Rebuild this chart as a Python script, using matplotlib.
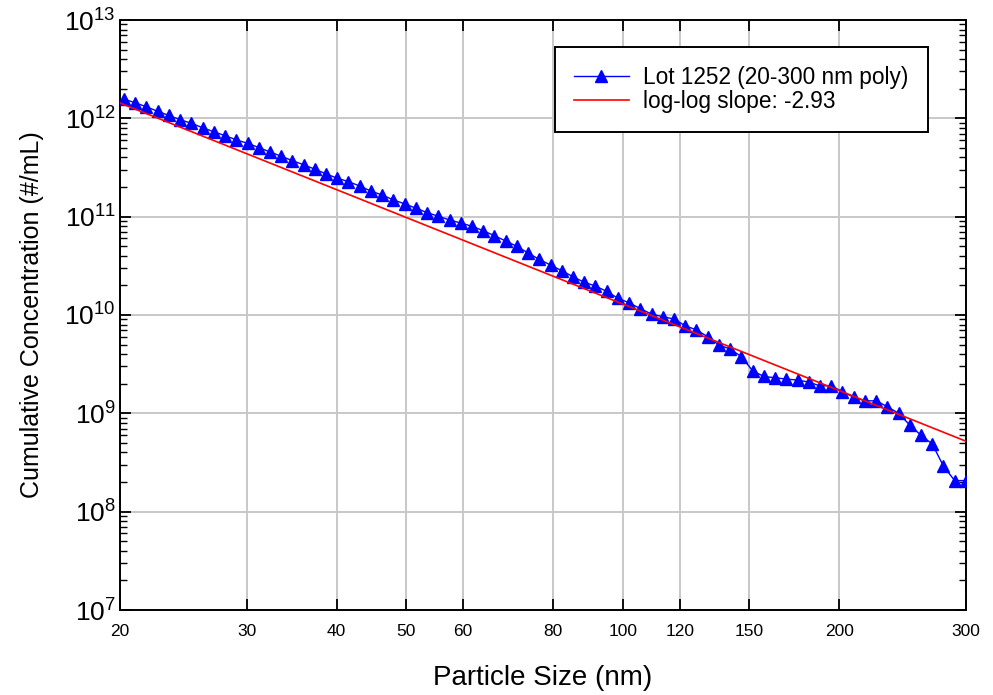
import matplotlib
matplotlib.use('Agg')
import matplotlib.pyplot as plt
from matplotlib.ticker import FixedLocator, FixedFormatter, LogLocator, NullFormatter

plt.rcParams['font.family'] = ['Liberation Sans', 'DejaVu Sans']
plt.rcParams['mathtext.fontset'] = 'custom'
plt.rcParams['mathtext.rm'] = 'Liberation Sans'
plt.rcParams['mathtext.it'] = 'Liberation Sans'

# particle size (nm)
size_nm = [20.25, 20.99, 21.76, 22.56, 23.38, 24.24, 25.13, 26.05, 27.00, 27.99,
           29.01, 30.08, 31.18, 32.32, 33.50, 34.73, 36.00, 37.31, 38.68, 40.09,
           41.56, 43.08, 44.66, 46.29, 47.99, 49.74, 51.56, 53.45, 55.40, 57.43,
           59.53, 61.71, 63.97, 66.31, 68.73, 71.25, 73.85, 76.56, 79.36, 82.26,
           85.27, 88.39, 91.62, 94.97, 98.45, 102.05, 105.79, 109.66, 113.67, 117.83,
           122.14, 126.60, 131.24, 136.04, 141.01, 146.17, 151.52, 157.06, 162.81, 168.77,
           174.94, 181.34, 187.97, 194.85, 201.98, 209.37, 217.03, 224.97, 233.20, 241.73,
           250.57, 259.74, 269.24, 279.09, 289.30, 300.0]

# cumulative concentration (#/mL)
conc = [1.57e12, 1.44e12, 1.31e12, 1.18e12, 1.07e12, 9.69e11, 8.90e11, 8.03e11, 7.31e11, 6.66e11,
        6.05e11, 5.57e11, 5.05e11, 4.55e11, 4.12e11, 3.71e11, 3.37e11, 3.04e11, 2.72e11, 2.46e11,
        2.27e11, 2.05e11, 1.82e11, 1.66e11, 1.48e11, 1.35e11, 1.22e11, 1.10e11, 1.01e11, 9.25e10,
        8.62e10, 7.98e10, 7.20e10, 6.40e10, 5.66e10, 4.99e10, 4.27e10, 3.67e10, 3.22e10, 2.82e10,
        2.45e10, 2.15e10, 1.97e10, 1.74e10, 1.48e10, 1.33e10, 1.16e10, 1.02e10, 9.61e9, 9.10e9,
        7.78e9, 7.04e9, 6.01e9, 4.95e9, 4.51e9, 3.77e9, 2.71e9, 2.37e9, 2.30e9, 2.23e9,
        2.18e9, 2.08e9, 1.90e9, 1.91e9, 1.66e9, 1.46e9, 1.34e9, 1.34e9, 1.17e9, 1.00e9,
        7.61e8, 5.98e8, 4.88e8, 2.91e8, 2.07e8, 2.07e8]

# power-law fit end points
fit_x = [20, 300]
fit_y = [1.43e12, 5.2e8]

x_ticks = [20, 30, 40, 50, 60, 80, 100, 120, 150, 200, 300]
y_exps = [7, 8, 9, 10, 11, 12, 13]

fig = plt.figure(figsize=(9.93, 6.95), dpi=100)
ax = fig.add_axes([120/993, 1-610/695, 846/993, 590/695])

ax.plot(size_nm, conc, '-^', color='#0000ff', lw=1.0, markersize=8.5,
        label='Lot 1252 (20-300 nm poly)', zorder=3)
ax.plot(fit_x, fit_y, '-', color='#ff0000', lw=1.2, label='log-log slope: -2.93', zorder=4)

ax.set_xscale('log')
ax.set_yscale('log')
ax.set_xlim(20, 300)
ax.set_ylim(1e7, 1e13)

ax.xaxis.set_major_locator(FixedLocator(x_ticks))
ax.xaxis.set_major_formatter(FixedFormatter([str(v) for v in x_ticks]))
ax.xaxis.set_minor_locator(FixedLocator([]))
ax.xaxis.set_minor_formatter(NullFormatter())

ax.yaxis.set_major_locator(FixedLocator([10.0**e for e in y_exps]))
ax.yaxis.set_major_formatter(FixedFormatter([r'$\mathregular{10^{%d}}$' % e for e in y_exps]))
ax.yaxis.set_minor_locator(LogLocator(base=10, subs=range(2, 10), numticks=20))
ax.yaxis.set_minor_formatter(NullFormatter())

ax.tick_params(which='both', direction='in', top=True, right=True, color='black')
ax.tick_params(which='major', length=8, width=1.3)
ax.tick_params(which='minor', length=5, width=1.0)
ax.tick_params(axis='x', labelsize=12.5, pad=10)
ax.tick_params(axis='y', labelsize=19, pad=3)

ax.grid(True, which='major', color='#c8c8c8', lw=1.4)
ax.set_axisbelow(True)
for s in ax.spines.values():
    s.set_linewidth(1.4)
    s.set_color('black')

ax.set_xlabel('Particle Size (nm)', fontsize=20, labelpad=19)
ax.set_ylabel('Cumulative Concentration (#/mL)', fontsize=18, labelpad=15)

leg = ax.legend(loc='upper right', bbox_to_anchor=(0.955, 0.954), borderaxespad=0,
                fontsize=16.3, fancybox=False, shadow=False, framealpha=1,
                edgecolor='black', handlelength=2.4, handletextpad=0.65,
                labelspacing=0.03, borderpad=0.85, markerscale=1.0)
leg.get_frame().set_linewidth(1.4)

fig.savefig('out.png', dpi=100)
